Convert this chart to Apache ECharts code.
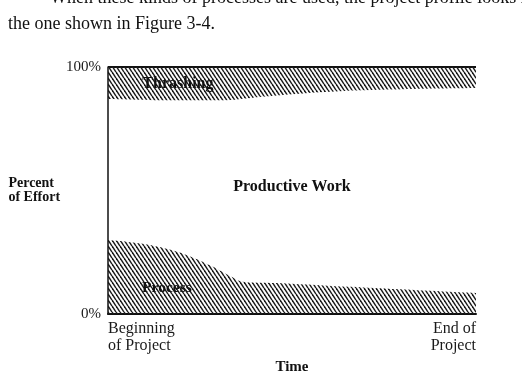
<!DOCTYPE html>
<html>
<head>
<meta charset="utf-8">
<script src="https://cdn.jsdelivr.net/npm/echarts@6/dist/echarts.min.js"></script>
<style>
html,body{margin:0;padding:0;background:#fff;}
#chart{width:522px;height:386px;}
</style>
</head>
<body>
<div id="chart"></div>
<script>
// Time position (0 = beginning, 100 = end of project), percent of effort
const thrashingBottom = [[0,87],[15,86.5],[30,86.5],[42,88],[60,90],[80,91],[100,91.5]];
const processTop = [[0,30],[9,28.5],[17,26],[22,23.5],[28,19.5],[33,15.5],[37,13],[47,12.5],[66,11],[79,10],[100,8.5]];
const yTickLabels = {0:'0%', 100:'100%'};
const xTickLabels = {0:'Beginning\nof Project', 100:'End of\nProject'};
const areaNames = ['Thrashing','Productive Work','Process'];
const headerLines = ['When these kinds of processes are used, the project profile looks like','the one shown in Figure 3-4.'];

function hatch(){
  const c = document.createElement('canvas');
  c.width = 4; c.height = 6;
  const g = c.getContext('2d');
  g.strokeStyle = '#1a1a1a';
  g.lineWidth = 1.5;
  for (let k = -2; k <= 2; k++) {
    g.beginPath();
    g.moveTo(k*4, 0);
    g.lineTo(k*4+4, 6);
    g.stroke();
  }
  return c;
}
const pat = {image: hatch(), repeat: 'repeat'};
const serif = '"Liberation Serif", "DejaVu Serif", serif';

const chart = echarts.init(document.getElementById('chart'));
chart.setOption({
  animation: false,
  backgroundColor: '#fff',
  grid: {left:108, right:46, top:67, bottom:72},
  xAxis: {
    type:'value', min:0, max:100, interval:100,
    axisLine:{show:true, lineStyle:{color:'#111', width:2}},
    axisTick:{show:false}, splitLine:{show:false},
    axisLabel:{
      formatter: v => xTickLabels[v] || '',
      fontFamily: serif, fontSize:16, color:'#1a1a1a', lineHeight:17, margin:6,
      alignMinLabel:'left', alignMaxLabel:'right'
    },
    name:'Time', nameLocation:'middle', nameGap:46,
    nameTextStyle:{fontFamily:serif, fontSize:15, fontWeight:'bold', color:'#111'}
  },
  yAxis: {
    type:'value', min:0, max:100, interval:100,
    axisLine:{show:true, lineStyle:{color:'#111', width:1.5}},
    axisTick:{show:false},
    splitLine:{show:true, lineStyle:{color:'#111', width:2}},
    axisLabel:{formatter: v => yTickLabels[v] || '', fontFamily:serif, fontSize:15, color:'#1a1a1a', margin:7},
    name:'Percent\nof Effort', nameLocation:'middle', nameRotate:0, nameGap:98,
    nameTextStyle:{fontFamily:serif, fontSize:14, fontWeight:'bold', color:'#111', align:'left', lineHeight:14, padding:[0,0,8,0]}
  },
  series: [
    {type:'line', name:areaNames[0], data:thrashingBottom, smooth:0.4, symbol:'none',
     lineStyle:{width:0}, areaStyle:{origin:'end', color:pat, opacity:1}},
    {type:'line', name:areaNames[2], data:processTop, smooth:0.4, symbol:'none',
     lineStyle:{width:0}, areaStyle:{origin:'start', color:pat, opacity:1}}
  ]
});

const p1 = chart.convertToPixel({gridIndex:0}, [19, 93.3]);
const p2 = chart.convertToPixel({gridIndex:0}, [50, 51.5]);
const p3 = chart.convertToPixel({gridIndex:0}, [16, 10.5]);
chart.setOption({
  graphic: [
    {type:'text', x:p1[0], y:p1[1], z:100, style:{text:areaNames[0], font:'bold 16px '+serif, fill:'#111', align:'center', verticalAlign:'middle'}},
    {type:'text', x:p2[0], y:p2[1], z:100, style:{text:areaNames[1], font:'bold 16px '+serif, fill:'#111', align:'center', verticalAlign:'middle'}},
    {type:'text', x:p3[0], y:p3[1], z:100, style:{text:areaNames[2], font:'bold 15.5px '+serif, fill:'#111', align:'center', verticalAlign:'middle'}},
    {type:'text', x:50, y:-2, style:{text:headerLines[0], font:'18px '+serif, fill:'#111', verticalAlign:'middle'}},
    {type:'text', x:8, y:24, style:{text:headerLines[1], font:'18px '+serif, fill:'#111', verticalAlign:'middle'}}
  ]
});
</script>
</body>
</html>
